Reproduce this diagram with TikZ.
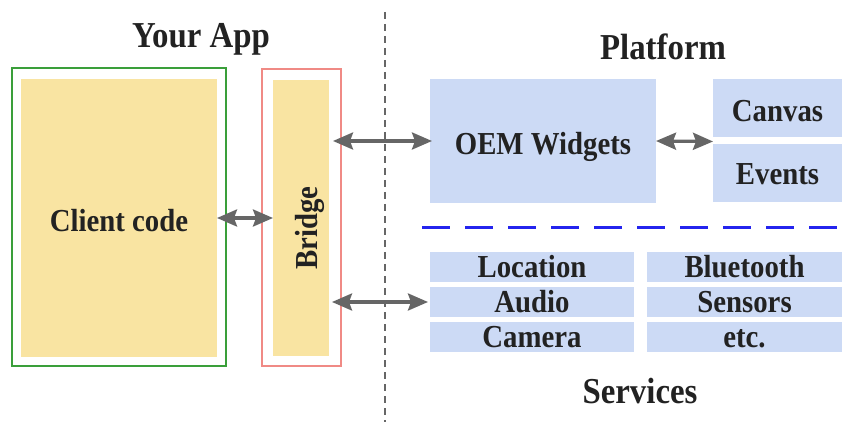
\documentclass[tikz,border=0pt]{standalone}
\usepackage{fontspec}
\setmainfont{Liberation Serif}[FakeStretch=0.9]
\usetikzlibrary{arrows.meta}
\definecolor{yfill}{HTML}{F9E4A2}
\definecolor{bfill}{HTML}{CCDAF5}
\definecolor{gframe}{HTML}{3A9F3A}
\definecolor{rframe}{HTML}{F08A85}
\definecolor{agray}{HTML}{666666}
\definecolor{dblue}{HTML}{2424EE}
\definecolor{txtc}{HTML}{222222}
\begin{document}
\begin{tikzpicture}[x=1pt,y=-1pt,
  box/.style={draw=none, inner sep=0pt, outer sep=0pt, text=txtc,
    font=\fontsize{32}{32}\selectfont\bfseries, text height=20pt, text depth=0pt},
  bigtxt/.style={text height=28pt, text depth=0pt},
  frame/.style={draw, line width=1.3pt, fill=none, inner sep=0pt, outer sep=0pt},
  title/.style={anchor=base, inner sep=0pt, text=txtc, font=\fontsize{36.5}{36.5}\selectfont\bfseries},
  tip/.tip={Stealth[length=20pt,width=17pt,inset=3pt]},
  arr/.style={draw=agray, line width=3.3pt, tip-tip}
]
\useasboundingbox (0,0) rectangle (842,427);

% titles
\node[title] (yourapp) at (201,48) {Your App};
\node[title] (platform) at (663,60) {Platform};
\node[title] (services) at (640,403) {Services};

% your app side
\node[frame, draw=gframe, minimum width=214pt, minimum height=298pt] (appframe) at (119,217) {};
\node[box, bigtxt, fill=yfill, minimum width=196pt, minimum height=278pt] (client) at (119,218) {Client code};
\node[frame, draw=rframe, minimum width=79pt, minimum height=297pt] (bridgeframe) at (301.5,217.5) {};
\node[box, fill=yfill, minimum width=56pt, minimum height=276pt] (bridge) at (301,218) {};
\node[box, rotate=90] (bridgetext) at (307,228) {Bridge};

% separators
\coordinate (vtop) at (385,12);
\coordinate (vbot) at (385,422);
\draw[agray, line width=1.5pt, dash pattern=on 7pt off 5pt] (vtop) -- (vbot);
\coordinate (hleft) at (422,228);
\coordinate (hright) at (842,228);
\draw[dblue, line width=3pt, dash pattern=on 28pt off 15pt] (hleft) -- (hright);

% platform
\node[box, bigtxt, fill=bfill, minimum width=226pt, minimum height=124pt] (oem) at (543,141) {OEM Widgets};
\node[box, bigtxt, fill=bfill, minimum width=129pt, minimum height=58pt] (canvas) at (777.5,108) {Canvas};
\node[box, fill=bfill, minimum width=129pt, minimum height=58pt, text height=24pt, text depth=0pt] (events) at (777.5,173) {Events};

% services
\node[box, fill=bfill, minimum width=204pt, minimum height=30pt] (location) at (532,267) {Location};
\node[box, fill=bfill, minimum width=204pt, minimum height=30pt] (audio) at (532,302) {Audio};
\node[box, fill=bfill, minimum width=204pt, minimum height=30pt] (camera) at (532,337) {Camera};
\node[box, fill=bfill, minimum width=195pt, minimum height=30pt] (bluetooth) at (744.5,267) {Bluetooth};
\node[box, fill=bfill, minimum width=195pt, minimum height=30pt] (sensors) at (744.5,302) {Sensors};
\node[box, fill=bfill, minimum width=195pt, minimum height=30pt] (etc) at (744.5,337) {etc.};

% connectors
\draw[arr] (client.east) -- (bridge.west);
\draw[arr] ([xshift=4pt]bridge.east |- oem.west) -- ([xshift=2pt]oem.west);
\draw[arr] ([xshift=3pt]bridge.east |- audio.west) -- ([xshift=-2pt]audio.west);
\draw[arr] (oem.east) -- ([yshift=-0.5pt]oem.east -| canvas.west);
\end{tikzpicture}
\end{document}
